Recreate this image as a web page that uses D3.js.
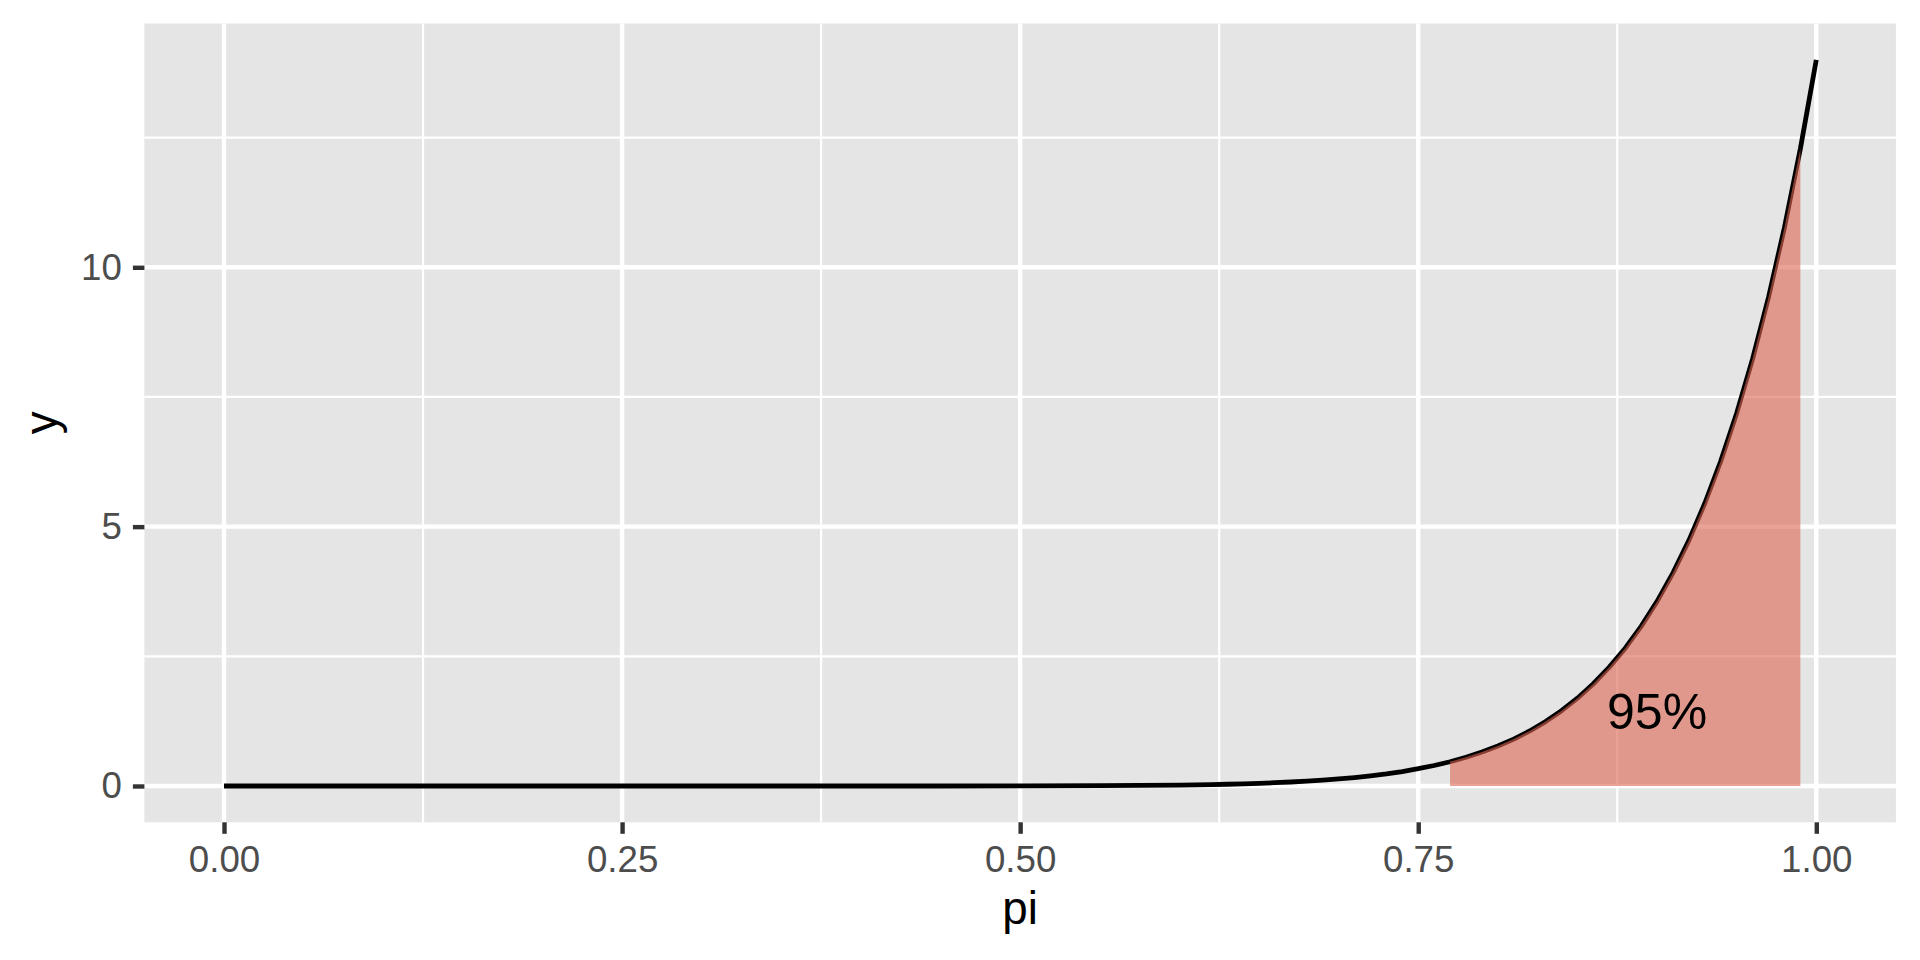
<!DOCTYPE html>
<html>
<head>
<meta charset="utf-8">
<script src="https://cdn.jsdelivr.net/npm/d3@7"></script>
<style>
  html, body { margin: 0; padding: 0; background: #fff; }
  svg { display: block; font-family: "Liberation Sans", Arial, sans-serif; }
</style>
</head>
<body>
<div id="chart"></div>
<script>
const piValues = [
  0.00, 0.05, 0.10, 0.15, 0.20, 0.25, 0.30, 0.35, 0.40, 0.45, 0.50, 0.55,
  0.60, 0.61, 0.62, 0.63, 0.64, 0.65, 0.66, 0.67, 0.68, 0.69,
  0.70, 0.71, 0.72, 0.73, 0.74, 0.75, 0.76, 0.77, 0.78, 0.79, 0.80,
  0.81, 0.82, 0.83, 0.84, 0.85, 0.86, 0.87, 0.88, 0.89, 0.90,
  0.91, 0.92, 0.93, 0.94, 0.95, 0.96, 0.97, 0.98, 0.99, 1.00
];
const densityValues = [
  0.000, 0.000, 0.000, 0.000, 0.000, 0.000, 0.000, 0.000, 0.000, 0.000, 0.002, 0.006,
  0.018, 0.023, 0.028, 0.034, 0.042, 0.052, 0.063, 0.077, 0.093, 0.113,
  0.136, 0.163, 0.196, 0.234, 0.279, 0.333, 0.395, 0.468, 0.554, 0.654, 0.770,
  0.904, 1.061, 1.242, 1.451, 1.693, 1.971, 2.291, 2.657, 3.078, 3.559,
  4.109, 4.736, 5.451, 6.263, 7.187, 8.235, 9.422, 10.766, 12.285, 14.000
];
const intervalLow = 0.77;
const intervalHigh = 0.99;
const intervalLabel = '95%';
const labelPos = [0.9, 1.45];

const xMajorTicks = [0, 0.25, 0.5, 0.75, 1];
const xMinorTicks = [0.125, 0.375, 0.625, 0.875];
const yMajorTicks = [0, 5, 10];
const yMinorTicks = [2.5, 7.5, 12.5];
const xTitle = 'pi';
const yTitle = 'y';

const width = 1920;
const height = 960;
const panel = { left: 144.4, right: 1895.9, top: 23.5, bottom: 822.3 };

const data = piValues.map((p, i) => ({ pi: p, y: densityValues[i] }));
const shaded = data.filter(d => d.pi >= intervalLow - 1e-9 && d.pi <= intervalHigh + 1e-9);

const svg = d3.select('#chart')
  .append('svg')
  .attr('width', width)
  .attr('height', height);

// ggplot-style 5% expansion on each side
const xExt = d3.extent(piValues);
const yExt = d3.extent(densityValues);
const xPad = (xExt[1] - xExt[0]) * 0.05;
const yPad = (yExt[1] - yExt[0]) * 0.05;

const x = d3.scaleLinear()
  .domain([xExt[0] - xPad, xExt[1] + xPad])
  .range([panel.left, panel.right]);

const y = d3.scaleLinear()
  .domain([yExt[0] - yPad, yExt[1] + yPad])
  .range([panel.bottom, panel.top]);

// panel background
svg.append('rect')
  .attr('x', panel.left)
  .attr('y', panel.top)
  .attr('width', panel.right - panel.left)
  .attr('height', panel.bottom - panel.top)
  .attr('fill', '#E5E5E5');

const grid = svg.append('g').attr('stroke', '#fff');

// minor grid
grid.selectAll('.xminor')
  .data(xMinorTicks)
  .enter()
  .append('line')
  .attr('x1', d => x(d)).attr('x2', d => x(d))
  .attr('y1', panel.top).attr('y2', panel.bottom)
  .attr('stroke-width', 2.2);

grid.selectAll('.yminor')
  .data(yMinorTicks)
  .enter()
  .append('line')
  .attr('y1', d => y(d)).attr('y2', d => y(d))
  .attr('x1', panel.left).attr('x2', panel.right)
  .attr('stroke-width', 2.2);

// major grid
grid.selectAll('.xmajor')
  .data(xMajorTicks)
  .enter()
  .append('line')
  .attr('x1', d => x(d)).attr('x2', d => x(d))
  .attr('y1', panel.top).attr('y2', panel.bottom)
  .attr('stroke-width', 4.4);

grid.selectAll('.ymajor')
  .data(yMajorTicks)
  .enter()
  .append('line')
  .attr('y1', d => y(d)).attr('y2', d => y(d))
  .attr('x1', panel.left).attr('x2', panel.right)
  .attr('stroke-width', 4.4);

// density line
const line = d3.line()
  .x(d => x(d.pi))
  .y(d => y(d.y));

svg.append('path')
  .datum(data)
  .attr('fill', 'none')
  .attr('stroke', '#000')
  .attr('stroke-width', 4.8)
  .attr('stroke-linejoin', 'round')
  .attr('d', line);

// shaded interval (drawn over the line like the original)
const area = d3.area()
  .x(d => x(d.pi))
  .y0(y(0))
  .y1(d => y(d.y));

svg.append('path')
  .datum(shaded)
  .attr('fill', '#DC6450')
  .attr('fill-opacity', 0.6)
  .attr('d', area);

svg.append('text')
  .attr('x', x(labelPos[0]))
  .attr('y', y(labelPos[1]))
  .attr('dy', '0.36em')
  .attr('text-anchor', 'middle')
  .attr('font-size', 50)
  .attr('fill', '#000')
  .text(intervalLabel);

// x axis
const xAxis = svg.append('g')
  .attr('transform', `translate(0,${panel.bottom})`)
  .call(d3.axisBottom(x).tickValues(xMajorTicks).tickFormat(d3.format('.2f')).tickSize(11.5).tickPadding(12))
  .call(g => g.select('.domain').remove());

xAxis.selectAll('.tick line').attr('stroke', '#333333').attr('stroke-width', 4.4);
xAxis.selectAll('.tick text')
  .attr('fill', '#4D4D4D')
  .attr('font-size', 36.7)
  .attr('font-family', '"Liberation Sans", Arial, sans-serif');

// y axis
const yAxis = svg.append('g')
  .attr('transform', `translate(${panel.left},0)`)
  .call(d3.axisLeft(y).tickValues(yMajorTicks).tickFormat(d3.format('d')).tickSize(11.5).tickPadding(11))
  .call(g => g.select('.domain').remove());

yAxis.selectAll('.tick line').attr('stroke', '#333333').attr('stroke-width', 4.4);
yAxis.selectAll('.tick text')
  .attr('fill', '#4D4D4D')
  .attr('font-size', 36.7)
  .attr('font-family', '"Liberation Sans", Arial, sans-serif');

// axis titles
svg.append('text')
  .attr('x', (panel.left + panel.right) / 2)
  .attr('y', 924)
  .attr('text-anchor', 'middle')
  .attr('font-size', 45.8)
  .attr('fill', '#000')
  .text(xTitle);

svg.append('text')
  .attr('transform', `translate(57,${(panel.top + panel.bottom) / 2}) rotate(-90)`)
  .attr('text-anchor', 'middle')
  .attr('font-size', 45.8)
  .attr('fill', '#000')
  .text(yTitle);
</script>
</body>
</html>
